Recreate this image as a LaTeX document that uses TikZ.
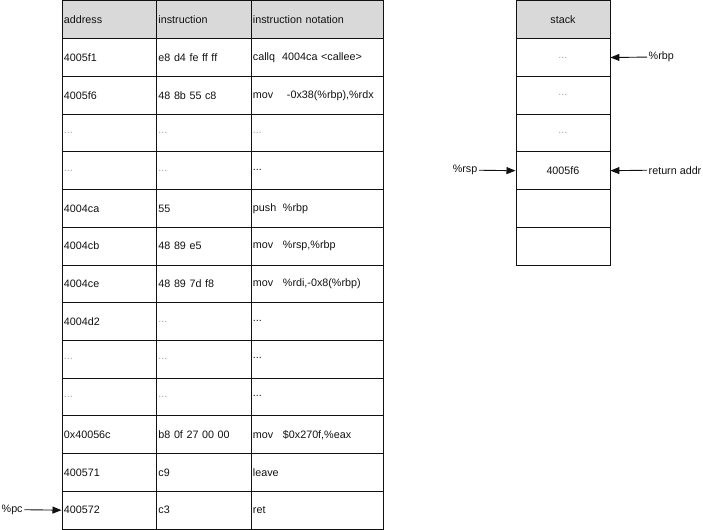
\documentclass[tikz,border=0pt]{standalone}
\usepackage{fontspec}
\setmainfont{Liberation Sans}
\usetikzlibrary{arrows.meta}
\definecolor{hdr}{HTML}{D9D9D9}
\definecolor{ink}{HTML}{111111}
\definecolor{dots}{HTML}{A0A0A0}
\newcommand{\ld}{\textcolor{dots}{...}}
\newcommand{\dd}{\raisebox{2bp}{...}}
\newcommand{\mn}[2][30bp]{\makebox[#1][l]{#2}}
\begin{document}
\begin{tikzpicture}[x=1bp,y=-1bp,
  font=\fontsize{10.8}{12}\selectfont, text=ink,
  cellbase/.style={draw=ink, line width=0.9bp, rectangle, anchor=north west,
    minimum height=37.72bp, inner ysep=0pt, inner xsep=2bp, align=left},
  ca/.style={cellbase, text width=90.5bp},
  cb/.style={cellbase, text width=90.5bp},
  cc/.style={cellbase, text width=128.5bp},
  sc/.style={draw=ink, line width=0.9bp, rectangle, anchor=north west,
    minimum height=37.72bp, minimum width=94bp, inner sep=0pt, align=center},
  hd/.style={fill=hdr},
  lbl/.style={inner sep=1.5bp},
  ptr/.style={draw=ink, line width=0.9bp, -{Triangle[length=9bp,width=7bp]}}
]
\useasboundingbox (0,0) rectangle (703,530);
\def\rh{37.72}
% table rows
\foreach \r/\a/\b/\c [count=\i from 0] in {
  {address}/{instruction}/{instruction notation},
  {4005f1}/{e8 d4 fe ff ff}/{callq\ \ 4004ca <callee>},
  {4005f6}/{48 8b 55 c8}/{\mn[34bp]{mov}-0x38(\%rbp),\%rdx},
  {\ld}/{\ld}/{\ld},
  {\ld}/{\ld}/{\dd},
  {4004ca}/{55}/{\mn{push}\%rbp},
  {4004cb}/{48 89 e5}/{\mn{mov}\%rsp,\%rbp},
  {4004ce}/{48 89 7d f8}/{\mn{mov}\%rdi,-0x8(\%rbp)},
  {4004d2}/{\ld}/{\dd},
  {\ld}/{\ld}/{\dd},
  {\ld}/{\ld}/{\dd},
  {0x40056c}/{b8 0f 27 00 00}/{\mn{mov}\$0x270f,\%eax},
  {400571}/{c9}/{leave},
  {400572}/{c3}/{ret}}
{
  \ifnum\i=0
    \node[ca,hd] (a\i) at (61.5,{0.5+\i*\rh}) {\r};
    \node[cb,hd] (b\i) at (156,{0.5+\i*\rh}) {\a};
    \node[cc,hd] (c\i) at (250.5,{0.5+\i*\rh}) {\b};
  \else
    \node[ca] (a\i) at (61.5,{0.5+\i*\rh}) {\r};
    \node[cb] (b\i) at (156,{0.5+\i*\rh}) {\a};
    \node[cc] (c\i) at (250.5,{0.5+\i*\rh}) {\b};
  \fi
}
% stack
\node[sc,hd] (s0) at (515.5,{0.5+0*\rh}) {stack};
\node[sc] (s1) at (515.5,{0.5+1*\rh}) {\ld};
\node[sc] (s2) at (515.5,{0.5+2*\rh}) {\ld};
\node[sc] (s3) at (515.5,{0.5+3*\rh}) {\ld};
\node[sc] (s4) at (515.5,{0.5+4*\rh}) {4005f6};
\node[sc] (s5) at (515.5,{0.5+5*\rh}) {};
\node[sc] (s6) at (515.5,{0.5+6*\rh}) {};
% pointer labels
\node[lbl,anchor=west] (pc) at (0,{0.5+13.5*\rh}) {\%pc};
\node[lbl,anchor=west] (rbp) at (647,{0.5+1.5*\rh}) {\%rbp};
\node[lbl,anchor=west] (ret) at (647,{0.5+4.5*\rh}) {return addr};
\node[lbl,anchor=east] (rsp) at (479,{0.5+4.5*\rh}) {\%rsp};
% pointers
\draw[ptr] (pc.east) -- (a13.west);
\draw[ptr] (rbp.west) -- (s1.east);
\draw[ptr] (ret.west) -- (s4.east);
\draw[ptr] (rsp.east) -- (s4.west);
\end{tikzpicture}
\end{document}
